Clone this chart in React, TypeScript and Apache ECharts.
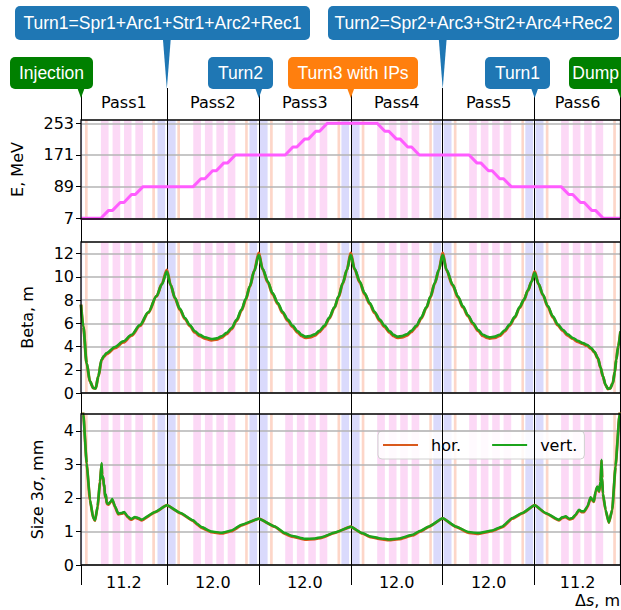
import React, { useEffect, useRef } from 'react';
import * as echarts from 'echarts';

// ---------- data ----------
const passBounds = [0, 11.2, 23.2, 35.2, 47.2, 59.2, 70.4];
const passNames = ['Pass1', 'Pass2', 'Pass3', 'Pass4', 'Pass5', 'Pass6'];
const passLengthLabels = ['11.2', '12.0', '12.0', '12.0', '12.0', '11.2'];

const eTicks = [7, 89, 171, 253];
const betaTicks = [0, 2, 4, 6, 8, 10, 12];
const sizeTicks = [0, 1, 2, 3, 4];

// element bands along s (m)
const pinkBands = [
  [2.6, 3.6], [4.12, 5.12], [5.61, 6.59], [7.09, 8.09],
  [14.65, 15.65], [16.17, 17.17], [17.66, 18.64], [19.14, 20.14],
  [26.65, 27.65], [28.17, 29.17], [29.66, 30.64], [31.14, 32.14],
  [38.65, 39.65], [40.17, 41.17], [41.66, 42.64], [43.14, 44.14],
  [50.65, 51.65], [52.17, 53.17], [53.66, 54.64], [55.14, 56.14],
  [62.65, 63.65], [64.17, 65.17], [65.66, 66.64], [67.14, 68.14],
];
const blueBands = [
  [0, 0.15],
  [9.98, 10.98], [11.33, 12.35], [21.98, 22.98], [23.33, 24.35],
  [33.98, 34.98], [35.33, 36.35], [45.98, 46.98], [47.33, 48.35],
  [57.98, 58.98], [59.33, 60.35],
];
const salmonBands = [
  [0.52, 0.87], [9.3, 9.65], [12.57, 12.92], [21.42, 21.76],
  [24.67, 25.02], [33.47, 33.82], [36.63, 36.98], [45.45, 45.78],
  [48.65, 49.0], [57.47, 57.8], [60.65, 61.0], [69.45, 69.8],
];

// energy
const eS = [0, 2.6, 3.6, 4.12, 5.12, 5.61, 6.59, 7.09, 8.09,
  14.65, 15.65, 16.17, 17.17, 17.66, 18.64, 19.14, 20.14,
  26.65, 27.65, 28.17, 29.17, 29.66, 30.64, 31.14, 32.14,
  38.65, 39.65, 40.17, 41.17, 41.66, 42.64, 43.14, 44.14,
  50.65, 51.65, 52.17, 53.17, 53.66, 54.64, 55.14, 56.14,
  62.65, 63.65, 64.17, 65.17, 65.66, 66.64, 67.14, 68.14, 70.4];
const eV = [7, 7, 27.5, 27.5, 48, 48, 68.5, 68.5, 89,
  89, 109.5, 109.5, 130, 130, 150.5, 150.5, 171,
  171, 191.5, 191.5, 212, 212, 232.5, 232.5, 253,
  253, 232.5, 232.5, 212, 212, 191.5, 191.5, 171,
  171, 150.5, 150.5, 130, 130, 109.5, 109.5, 89,
  89, 68.5, 68.5, 48, 48, 27.5, 27.5, 7, 7];

// beta functions
const betaS = [
  0, 0.3, 0.74, 1.17, 1.6, 1.91, 2.26, 2.69, 3.0, 3.35, 4.43, 5.52, 6.6, 7.69, 8.78, 9.86, 10.55, 11.2,
  11.7, 12.26, 12.9, 13.56, 14.2, 14.86, 15.5, 16.17, 17.04, 17.7, 18.34, 19.0, 19.65, 20.3, 20.95, 21.5, 22.03, 22.6, 23.2,
  23.7, 24.38, 25.0, 25.68, 26.3, 26.99, 27.6, 28.29, 28.8, 29.3, 29.9, 30.5, 31.1, 31.77, 32.4, 33.08, 33.6, 34.16, 34.7, 35.2,
  35.7, 36.38, 37.0, 37.68, 38.3, 38.99, 39.6, 40.29, 40.8, 41.3, 41.9, 42.5, 43.1, 43.77, 44.4, 45.08, 45.6, 46.16, 46.7, 47.2,
  47.7, 48.5, 49.2, 49.84, 50.5, 51.15, 51.8, 52.45, 53.0, 53.33, 54.0, 54.63, 55.3, 55.93, 56.6, 57.24, 57.8, 58.32, 58.8, 59.2,
  59.7, 60.28, 60.9, 61.58, 62.2, 62.88, 63.5, 64.19, 64.8, 65.49, 66.0, 66.58, 67.0, 67.45, 67.8, 68.1, 68.45, 68.75, 69.05, 69.4, 69.65, 69.84, 70.1, 70.4,
];
const betaVert = [
  7.6, 5.74, 2.58, 1.0, 0.43, 0.4, 1.44, 2.87, 3.2, 3.45, 3.96, 4.45, 5.02, 5.85, 6.95, 8.35, 9.35, 10.45,
  9.3, 8.2, 7.25, 6.46, 5.85, 5.31, 5.0, 4.8, 4.65, 4.7, 4.88, 5.18, 5.6, 6.3, 7.18, 8.1, 9.19, 10.5, 11.9,
  10.7, 9.6, 8.6, 7.75, 7.0, 6.32, 5.8, 5.31, 5.0, 4.85, 4.9, 5.05, 5.35, 5.8, 6.5, 7.4, 8.3, 9.47, 10.6, 11.9,
  10.7, 9.6, 8.6, 7.75, 7.0, 6.32, 5.8, 5.31, 5.0, 4.85, 4.9, 5.05, 5.35, 5.8, 6.5, 7.4, 8.3, 9.47, 10.6, 11.9,
  10.6, 9.33, 8.3, 7.46, 6.7, 6.03, 5.45, 5.02, 4.85, 4.8, 4.85, 5.02, 5.4, 5.89, 6.55, 7.4, 8.05, 8.85, 9.6, 10.35,
  9.4, 8.47, 7.5, 6.6, 5.92, 5.45, 5.05, 4.74, 4.5, 4.31, 4.15, 3.88, 3.55, 3.01, 2.2, 1.44, 0.7, 0.36, 0.4, 0.86, 1.8, 2.87, 4.0, 5.3,
];
const betaHor = [
  7.6, 5.7, 2.55, 0.98, 0.42, 0.4, 1.42, 2.84, 3.15, 3.38, 3.88, 4.36, 4.94, 5.78, 6.9, 8.32, 9.38, 10.6,
  9.3, 8.15, 7.18, 6.38, 5.77, 5.22, 4.9, 4.7, 4.55, 4.6, 4.78, 5.08, 5.52, 6.22, 7.1, 8.03, 9.14, 10.5, 12.05,
  10.65, 9.52, 8.52, 7.66, 6.9, 6.22, 5.7, 5.2, 4.9, 4.75, 4.8, 4.95, 5.26, 5.72, 6.42, 7.34, 8.25, 9.43, 10.6, 12.05,
  10.65, 9.52, 8.52, 7.66, 6.9, 6.22, 5.7, 5.2, 4.9, 4.75, 4.8, 4.95, 5.26, 5.72, 6.42, 7.34, 8.25, 9.43, 10.6, 12.05,
  10.55, 9.25, 8.22, 7.38, 6.62, 5.94, 5.36, 4.92, 4.75, 4.7, 4.75, 4.93, 5.32, 5.82, 6.49, 7.35, 8.0, 8.82, 9.6, 10.45,
  9.38, 8.42, 7.43, 6.52, 5.84, 5.36, 4.96, 4.66, 4.42, 4.24, 4.08, 3.82, 3.5, 2.98, 2.18, 1.42, 0.68, 0.35, 0.4, 0.86, 1.8, 2.87, 4.0, 5.3,
];

// beam size 3 sigma
const sizeS = [
  0, 0.3, 0.74, 1.17, 1.6, 1.83, 2.17, 2.48, 2.69, 2.75, 2.82, 2.9, 3.0, 3.05, 3.13, 3.25, 3.35, 3.56, 3.91, 4.08, 4.43, 4.87, 5.3, 5.65, 6.08, 6.52, 7.04, 7.47, 7.91, 9.65, 11.2,
  13.0, 14.64, 15.2, 15.73, 17.04, 18.34, 19.65, 20.95, 23.2,
  25.29, 26.6, 27.47, 29.2, 30.5, 31.38, 33.12, 35.2,
  36.7, 37.8, 38.9, 40.2, 41.5, 43.24, 44.3, 45.4, 47.2,
  48.9, 50.6, 51.9, 53.68, 54.98, 56.28, 57.58, 59.2,
  60.63, 62.37, 62.8, 63.24, 63.7, 64.11, 64.54, 64.98, 65.3, 65.63, 66.1, 66.5, 66.7, 66.93, 67.15, 67.37, 67.6, 67.8, 67.93, 68.0, 68.1, 68.45, 68.88, 69.32, 69.75, 70.27, 70.4,
];
const sizeVert = [
  5.2, 4.5, 3.04, 1.95, 1.4, 1.33, 1.75, 2.49, 3.04, 2.7, 2.59, 2.62, 2.34, 2.4, 2.04, 2.1, 1.85, 1.82, 1.9, 1.97, 1.75, 1.53, 1.55, 1.58, 1.45, 1.37, 1.43, 1.4, 1.35, 1.58, 1.78,
  1.55, 1.33, 1.22, 1.13, 1.0, 0.96, 1.03, 1.2, 1.38,
  1.15, 0.95, 0.87, 0.78, 0.79, 0.83, 0.97, 1.14,
  0.95, 0.85, 0.8, 0.76, 0.79, 0.9, 1.02, 1.15, 1.39,
  1.15, 0.98, 0.95, 1.03, 1.15, 1.4, 1.55, 1.78,
  1.55, 1.35, 1.42, 1.45, 1.38, 1.4, 1.5, 1.65, 1.6, 1.6, 1.75, 2.02, 1.95, 1.9, 2.2, 2.34, 2.2, 2.49, 3.14, 2.6, 2.14, 1.65, 1.27, 1.65, 2.94, 4.48, 4.8,
];
const sizeHor = [
  5.2, 4.5, 3.02, 1.93, 1.39, 1.32, 1.74, 2.47, 3.0, 2.68, 2.57, 2.6, 2.32, 2.38, 2.02, 2.08, 1.83, 1.8, 1.88, 1.95, 1.73, 1.51, 1.53, 1.56, 1.43, 1.35, 1.41, 1.38, 1.33, 1.57, 1.78,
  1.54, 1.31, 1.2, 1.11, 0.98, 0.94, 1.01, 1.18, 1.38,
  1.14, 0.93, 0.85, 0.76, 0.77, 0.81, 0.96, 1.14,
  0.94, 0.83, 0.78, 0.74, 0.77, 0.88, 1.0, 1.14, 1.39,
  1.14, 0.96, 0.93, 1.01, 1.13, 1.38, 1.54, 1.78,
  1.54, 1.33, 1.4, 1.43, 1.36, 1.38, 1.48, 1.63, 1.58, 1.58, 1.73, 2.0, 1.93, 1.88, 2.18, 2.32, 2.18, 2.47, 3.1, 2.58, 2.12, 1.63, 1.26, 1.64, 2.92, 4.48, 4.8,
];

// annotation boxes on top
const annotations = [
  { text: 'Turn1=Spr1+Arc1+Str1+Arc2+Rec1', color: '#1f77b4', at: 11.2, row: 0, x0: 15, x1: 310 },
  { text: 'Turn2=Spr2+Arc3+Str2+Arc4+Rec2', color: '#1f77b4', at: 47.2, row: 0, x0: 328, x1: 619 },
  { text: 'Injection', color: '#008000', at: 0, row: 1, x0: 10, x1: 93 },
  { text: 'Turn2', color: '#1f77b4', at: 23.2, row: 1, x0: 208, x1: 273 },
  { text: 'Turn3 with IPs', color: '#ff7f0e', at: 35.2, row: 1, x0: 288, x1: 418 },
  { text: 'Turn1', color: '#1f77b4', at: 59.2, row: 1, x0: 485, x1: 550 },
  { text: 'Dump', color: '#008000', at: 70.4, row: 1, x0: 569, x1: 626 },
];

// ---------- layout ----------
const LEFT = 81;
const WIDTH = 539.5;
const GRIDS = [
  { top: 120, height: 99 },
  { top: 242, height: 151 },
  { top: 414, height: 151 },
];
const FONT = 'DejaVu Sans';
const PINK = '#fcd9f6';
const BLUE = '#dadafc';
const SALMON = '#fdd6c8';
const HOR = '#d9581c';
const VERT = '#1ca41c';

const zip = (xs: number[], ys: number[]) => xs.map((x, i) => [x, ys[i]]);

export default function App() {
  const ref = useRef<HTMLDivElement>(null);
  useEffect(() => {
    document.body.style.margin = '0';
    const chart = echarts.init(ref.current!, null, { renderer: 'svg' });
    const sMax = passBounds[passBounds.length - 1];
    const centers = passNames.map((_, i) => (passBounds[i] + passBounds[i + 1]) / 2);
    const labelFor = (names: string[]) => (v: number) => {
      let best = 0;
      centers.forEach((c, i) => { if (Math.abs(c - v) < Math.abs(centers[best] - v)) best = i; });
      return names[best];
    };
    const bandArea = [
      ...pinkBands.map(([a, b]) => [{ xAxis: a, itemStyle: { color: PINK } }, { xAxis: b }]),
      ...blueBands.map(([a, b]) => [{ xAxis: a, itemStyle: { color: BLUE } }, { xAxis: b }]),
      ...salmonBands.map(([a, b]) => [{ xAxis: a, itemStyle: { color: SALMON } }, { xAxis: b }]),
    ];
    const innerBounds = passBounds.slice(1, -1).map((b) => ({ xAxis: b }));
    const gapLen = [GRIDS[1].top - GRIDS[0].top - GRIDS[0].height, GRIDS[2].top - GRIDS[1].top - GRIDS[1].height, 20];

    const xAxes: any[] = GRIDS.map((_, i) => ({
      type: 'value', gridIndex: i, min: 0, max: sMax, position: 'bottom', z: 5,
      axisLine: { show: false }, splitLine: { show: false },
      axisTick: { show: true, customValues: passBounds, length: gapLen[i], lineStyle: { color: '#000', width: 1 } },
      axisLabel: i === 2
        ? { show: true, customValues: centers, formatter: labelFor(passLengthLabels), fontFamily: FONT, fontSize: 16, color: '#000', margin: 9 }
        : { show: false },
    }));
    xAxes.push({
      type: 'value', gridIndex: 0, min: 0, max: sMax, position: 'top', z: 5,
      axisLine: { show: false }, splitLine: { show: false },
      axisTick: { show: true, customValues: passBounds, length: 32, lineStyle: { color: '#000', width: 1 } },
      axisLabel: { show: true, customValues: centers, formatter: labelFor(passNames), fontFamily: FONT, fontSize: 16, color: '#000', margin: 10 },
    });

    const yBase = (gi: number, min: number, max: number, ticks: number[], name: string, gap: number, extra: any = {}) => ({
      type: 'value', gridIndex: gi, min, max, z: 5,
      name, nameLocation: 'middle', nameGap: gap, nameRotate: 90,
      nameTextStyle: { fontFamily: FONT, fontSize: 16, color: '#000', ...extra },
      axisLine: { show: false },
      axisTick: { show: true, customValues: ticks, length: 5, lineStyle: { color: '#000' } },
      axisLabel: { show: true, customValues: ticks, fontFamily: FONT, fontSize: 16, color: '#000', margin: 7 },
      splitLine: { show: true, lineStyle: { color: '#b4b4b4', width: 1.5 } },
    });

    const bandSeries = (gi: number) => ({
      type: 'line', xAxisIndex: gi, yAxisIndex: gi, data: [], z: 1, silent: true,
      markArea: { silent: true, data: bandArea },
      markLine: { silent: true, symbol: 'none', label: { show: false }, lineStyle: { color: '#000', width: 1, type: 'solid' }, data: innerBounds },
    });

    const lineS = (name: string, gi: number, data: number[][], color: string, width: number, smooth: number | boolean = false) => ({
      type: 'line', name, xAxisIndex: gi, yAxisIndex: gi, data, showSymbol: false, symbol: 'none', z: 10,
      lineStyle: { color, width }, itemStyle: { color }, smooth, smoothMonotone: 'x',
    });

    const frames = GRIDS.map((g) => ({
      type: 'rect', z: 100, silent: true,
      shape: { x: LEFT, y: g.top, width: WIDTH, height: g.height },
      style: { fill: 'none', stroke: '#000', lineWidth: 1.3 },
    }));

    const option: any = {
      animation: false,
      grid: GRIDS.map((g) => ({ left: LEFT, top: g.top, width: WIDTH, height: g.height, containLabel: false })),
      xAxis: xAxes,
      yAxis: [
        yBase(0, 5.2, 261.5, eTicks, 'E, MeV', 56),
        yBase(1, 0, 13, betaTicks, 'Beta, m', 46),
        yBase(2, 0, 4.5, sizeTicks, 'Size 3{i|σ}, mm', 36, { rich: { i: { fontStyle: 'italic', fontFamily: FONT, fontSize: 16 } } }),
      ],
      legend: {
        data: ['hor.', 'vert.'], left: 378, top: 431, orient: 'horizontal',
        icon: 'rect', itemWidth: 35, itemHeight: 2, itemGap: 31,
        padding: [6, 7, 6, 5], backgroundColor: 'rgba(255,255,255,0.85)', borderColor: '#d0d0d0', borderWidth: 1, borderRadius: 4,
        textStyle: { fontFamily: FONT, fontSize: 16, color: '#000', padding: [0, 0, 0, 8] },
      },
      series: [
        bandSeries(0), bandSeries(1), bandSeries(2),
        lineS('E', 0, zip(eS, eV), '#ff5cff', 3),
        lineS('hor.', 1, zip(betaS, betaHor), HOR, 3, 0.3),
        lineS('vert.', 1, zip(betaS, betaVert), VERT, 2.6, 0.3),
        lineS('hor.', 2, zip(sizeS, sizeHor), HOR, 2.8, 0.15),
        lineS('vert.', 2, zip(sizeS, sizeVert), VERT, 2.5, 0.15),
      ],
      graphic: [...frames],
    };
    chart.setOption(option);

    // annotations pointing at pass boundaries
    const rows = [{ y: 6, h: 34, tip: 89 }, { y: 57, h: 32, tip: 98 }];
    const ann: any[] = [];
    annotations.forEach((a) => {
      const px = chart.convertToPixel({ xAxisIndex: 0 }, a.at) as number;
      const r = rows[a.row];
      ann.push({
        type: 'polygon', z: 120, silent: true,
        shape: { points: [[px - 4, r.y + r.h - 2], [px + 4, r.y + r.h - 2], [px, r.tip]] },
        style: { fill: a.color },
      });
      ann.push({
        type: 'rect', z: 121, silent: true,
        shape: { x: a.x0, y: r.y, width: a.x1 - a.x0, height: r.h, r: 5 },
        style: { fill: a.color },
      });
      const clipped = a.x1 > 621;
      ann.push({
        type: 'text', z: 122, silent: true,
        style: {
          text: a.text, x: clipped ? 619 : (a.x0 + a.x1) / 2, y: r.y + r.h / 2,
          fill: '#fff', font: '17.5px "Liberation Sans", Arial, sans-serif',
          align: clipped ? 'right' : 'center', verticalAlign: 'middle',
        },
      });
    });
    ann.push({
      type: 'text', z: 122, silent: true,
      style: {
        text: 'Δ{i|s}, m', x: 620, y: 600, align: 'right', verticalAlign: 'middle',
        font: `16px "${FONT}"`, fill: '#000',
        rich: { i: { fontStyle: 'italic', fontFamily: FONT, fontSize: 16, fill: '#000' } },
      },
    });
    chart.setOption({ graphic: [...frames, ...ann] });

    return () => chart.dispose();
  }, []);
  return <div ref={ref} style={{ width: 621, height: 610 }} />;
}
